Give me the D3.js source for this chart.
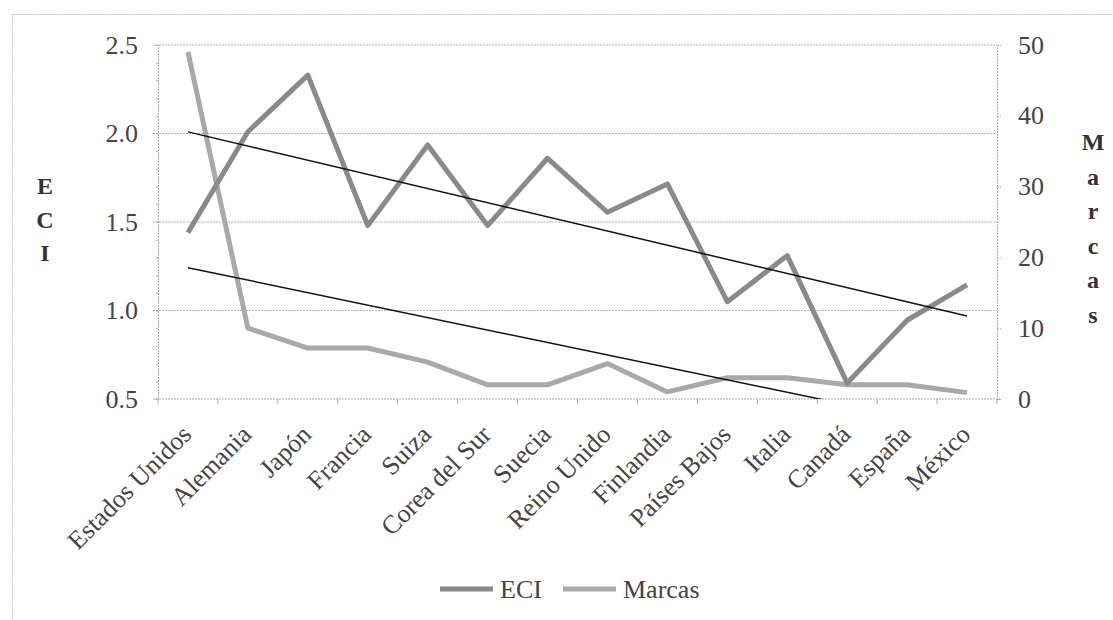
<!DOCTYPE html>
<html>
<head>
<meta charset="utf-8">
<script src="https://cdn.jsdelivr.net/npm/d3@7"></script>
<style>
  body { margin: 0; background: #fff; }
</style>
</head>
<body>
<svg width="1113" height="620"></svg>
<script>
"use strict";

const countries = ["Estados Unidos", "Alemania", "Japón", "Francia", "Suiza", "Corea del Sur",
    "Suecia", "Reino Unido", "Finlandia", "Países Bajos", "Italia", "Canadá", "España", "México"];
const eci = [1.44, 2.01, 2.33, 1.48, 1.935, 1.48, 1.86, 1.555, 1.715, 1.05, 1.31, 0.59, 0.945, 1.145];
const marcas = [49, 10, 7.2, 7.2, 5.2, 2, 2, 5, 1, 3, 3, 2, 2, 0.9];
const eciTicks = [0.5, 1.0, 1.5, 2.0, 2.5];
const marcasTicks = [0, 10, 20, 30, 40, 50];

const plotLeft = 158, plotRight = 997, plotTop = 45, plotBottom = 399;
const eciColor = "#8a8a8a", marcasColor = "#a9a9a9";
const fontSize = 26;
const serif = '"Liberation Serif", "Times New Roman", serif';
const textColor = "#444";

const svg = d3.select("svg");

// chart border
svg.append("rect")
    .attr("x", 12.5).attr("y", 14.5)
    .attr("width", 1120).attr("height", 640)
    .attr("fill", "none").attr("stroke", "#c4c4c4")
    .attr("stroke-dasharray", "2,1");

const x = d3.scaleBand().domain(countries).range([plotLeft, plotRight]);
const yL = d3.scaleLinear().domain([0.5, 2.5]).range([plotBottom, plotTop]);
const yR = d3.scaleLinear().domain([0, 50]).range([plotBottom, plotTop]);
const cx = d => x(d) + x.bandwidth() / 2;

function styleText(sel, size) {
    return sel.style("font-family", serif).style("font-size", size + "px").style("fill", textColor);
}

// gridlines
svg.append("g").selectAll("line")
    .data(eciTicks.slice(1))
    .join("line")
    .attr("x1", plotLeft - 5).attr("x2", plotRight)
    .attr("y1", d => yL(d)).attr("y2", d => yL(d))
    .attr("stroke", "#b3b3b3").attr("stroke-dasharray", "2,1");

// left axis
const axL = svg.append("g").attr("transform", `translate(${plotLeft},0)`)
    .call(d3.axisLeft(yL).tickValues(d3.range(5, 26).map(v => v / 10)).tickSize(3).tickFormat(""));
axL.selectAll("line, path").attr("stroke", "#ababab").attr("stroke-dasharray", "2,1");
svg.append("g").selectAll("text")
    .data(eciTicks)
    .join("text")
    .attr("x", 138).attr("y", d => yL(d))
    .attr("dy", "0.33em")
    .attr("text-anchor", "end")
    .call(styleText, fontSize)
    .text(d => d.toFixed(1));

// right axis
const axR = svg.append("g").attr("transform", `translate(${plotRight},0)`)
    .call(d3.axisRight(yR).tickValues(marcasTicks).tickSize(4).tickFormat(""));
axR.selectAll("line, path").attr("stroke", "#ababab").attr("stroke-dasharray", "2,1");
svg.append("g").selectAll("text")
    .data(marcasTicks)
    .join("text")
    .attr("x", 1018).attr("y", d => yR(d))
    .attr("dy", "0.33em")
    .call(styleText, fontSize)
    .text(d => d);

// bottom axis
const axB = svg.append("g").attr("transform", `translate(0,${plotBottom})`);
axB.append("line").attr("x1", plotLeft - 5).attr("x2", plotRight + 3)
    .attr("stroke", "#ababab").attr("stroke-dasharray", "2,1");
axB.selectAll("line.tk")
    .data(d3.range(countries.length + 1))
    .join("line").attr("class", "tk")
    .attr("x1", i => plotLeft + i * x.bandwidth())
    .attr("x2", i => plotLeft + i * x.bandwidth())
    .attr("y1", 0).attr("y2", 5)
    .attr("stroke", "#ababab");
svg.append("g").selectAll("text")
    .data(countries)
    .join("text")
    .attr("transform", d => `translate(${cx(d) + 5},${plotBottom + 37}) rotate(-45)`)
    .attr("text-anchor", "end")
    .call(styleText, fontSize)
    .text(d => d);

// axis titles, stacked letters
function vertical(label, px, y0, step) {
    const t = svg.append("text")
        .attr("text-anchor", "middle")
        .call(styleText, 24)
        .style("font-weight", "bold")
        .style("fill", "#333");
    label.split("").forEach((ch, i) => {
        t.append("tspan").attr("x", px).attr("y", y0 + i * step).text(ch);
    });
}
vertical("ECI", 45, 194, 33.5);
vertical("Marcas", 1093, 150, 34.5);

// series lines
const lineL = d3.line().x((d, i) => cx(countries[i])).y(d => yL(d));
const lineR = d3.line().x((d, i) => cx(countries[i])).y(d => yR(d));

svg.append("path").datum(marcas)
    .attr("d", lineR)
    .attr("fill", "none").attr("stroke", marcasColor)
    .attr("stroke-width", 5).attr("stroke-linejoin", "round");
svg.append("path").datum(eci)
    .attr("d", lineL)
    .attr("fill", "none").attr("stroke", eciColor)
    .attr("stroke-width", 5).attr("stroke-linejoin", "round");

// linear trendlines
function trend(vals) {
    const xs = d3.range(1, vals.length + 1);
    const mx = d3.mean(xs), my = d3.mean(vals);
    const sxy = d3.sum(xs, (v, i) => (v - mx) * (vals[i] - my));
    const sxx = d3.sum(xs, v => (v - mx) * (v - mx));
    const b = sxy / sxx;
    return xs.map(v => my + b * (v - mx));
}
svg.append("clipPath").attr("id", "plot")
    .append("rect").attr("x", plotLeft).attr("y", plotTop)
    .attr("width", plotRight - plotLeft).attr("height", plotBottom - plotTop);

const last = countries.length - 1;
const ends = vals => [[cx(countries[0]), vals[0]], [cx(countries[last]), vals[last]]];
svg.append("path").datum(ends(trend(eci)))
    .attr("d", d3.line().x(d => d[0]).y(d => yL(d[1])))
    .attr("stroke", "#111").attr("stroke-width", 1.5).attr("fill", "none");
svg.append("path").datum(ends(trend(marcas)))
    .attr("clip-path", "url(#plot)")
    .attr("d", d3.line().x(d => d[0]).y(d => yR(d[1])))
    .attr("stroke", "#111").attr("stroke-width", 1.5).attr("fill", "none");

// legend
const legend = [["ECI", eciColor, 440, 500], ["Marcas", marcasColor, 563, 623]];
const lg = svg.append("g");
legend.forEach(([name, color, lx, tx]) => {
    lg.append("line").attr("x1", lx).attr("x2", lx + 53)
        .attr("y1", 589).attr("y2", 589)
        .attr("stroke", color).attr("stroke-width", 5);
    lg.append("text").attr("x", tx).attr("y", 589).attr("dy", "0.33em")
        .call(styleText, fontSize).text(name);
});
</script>
</body>
</html>
